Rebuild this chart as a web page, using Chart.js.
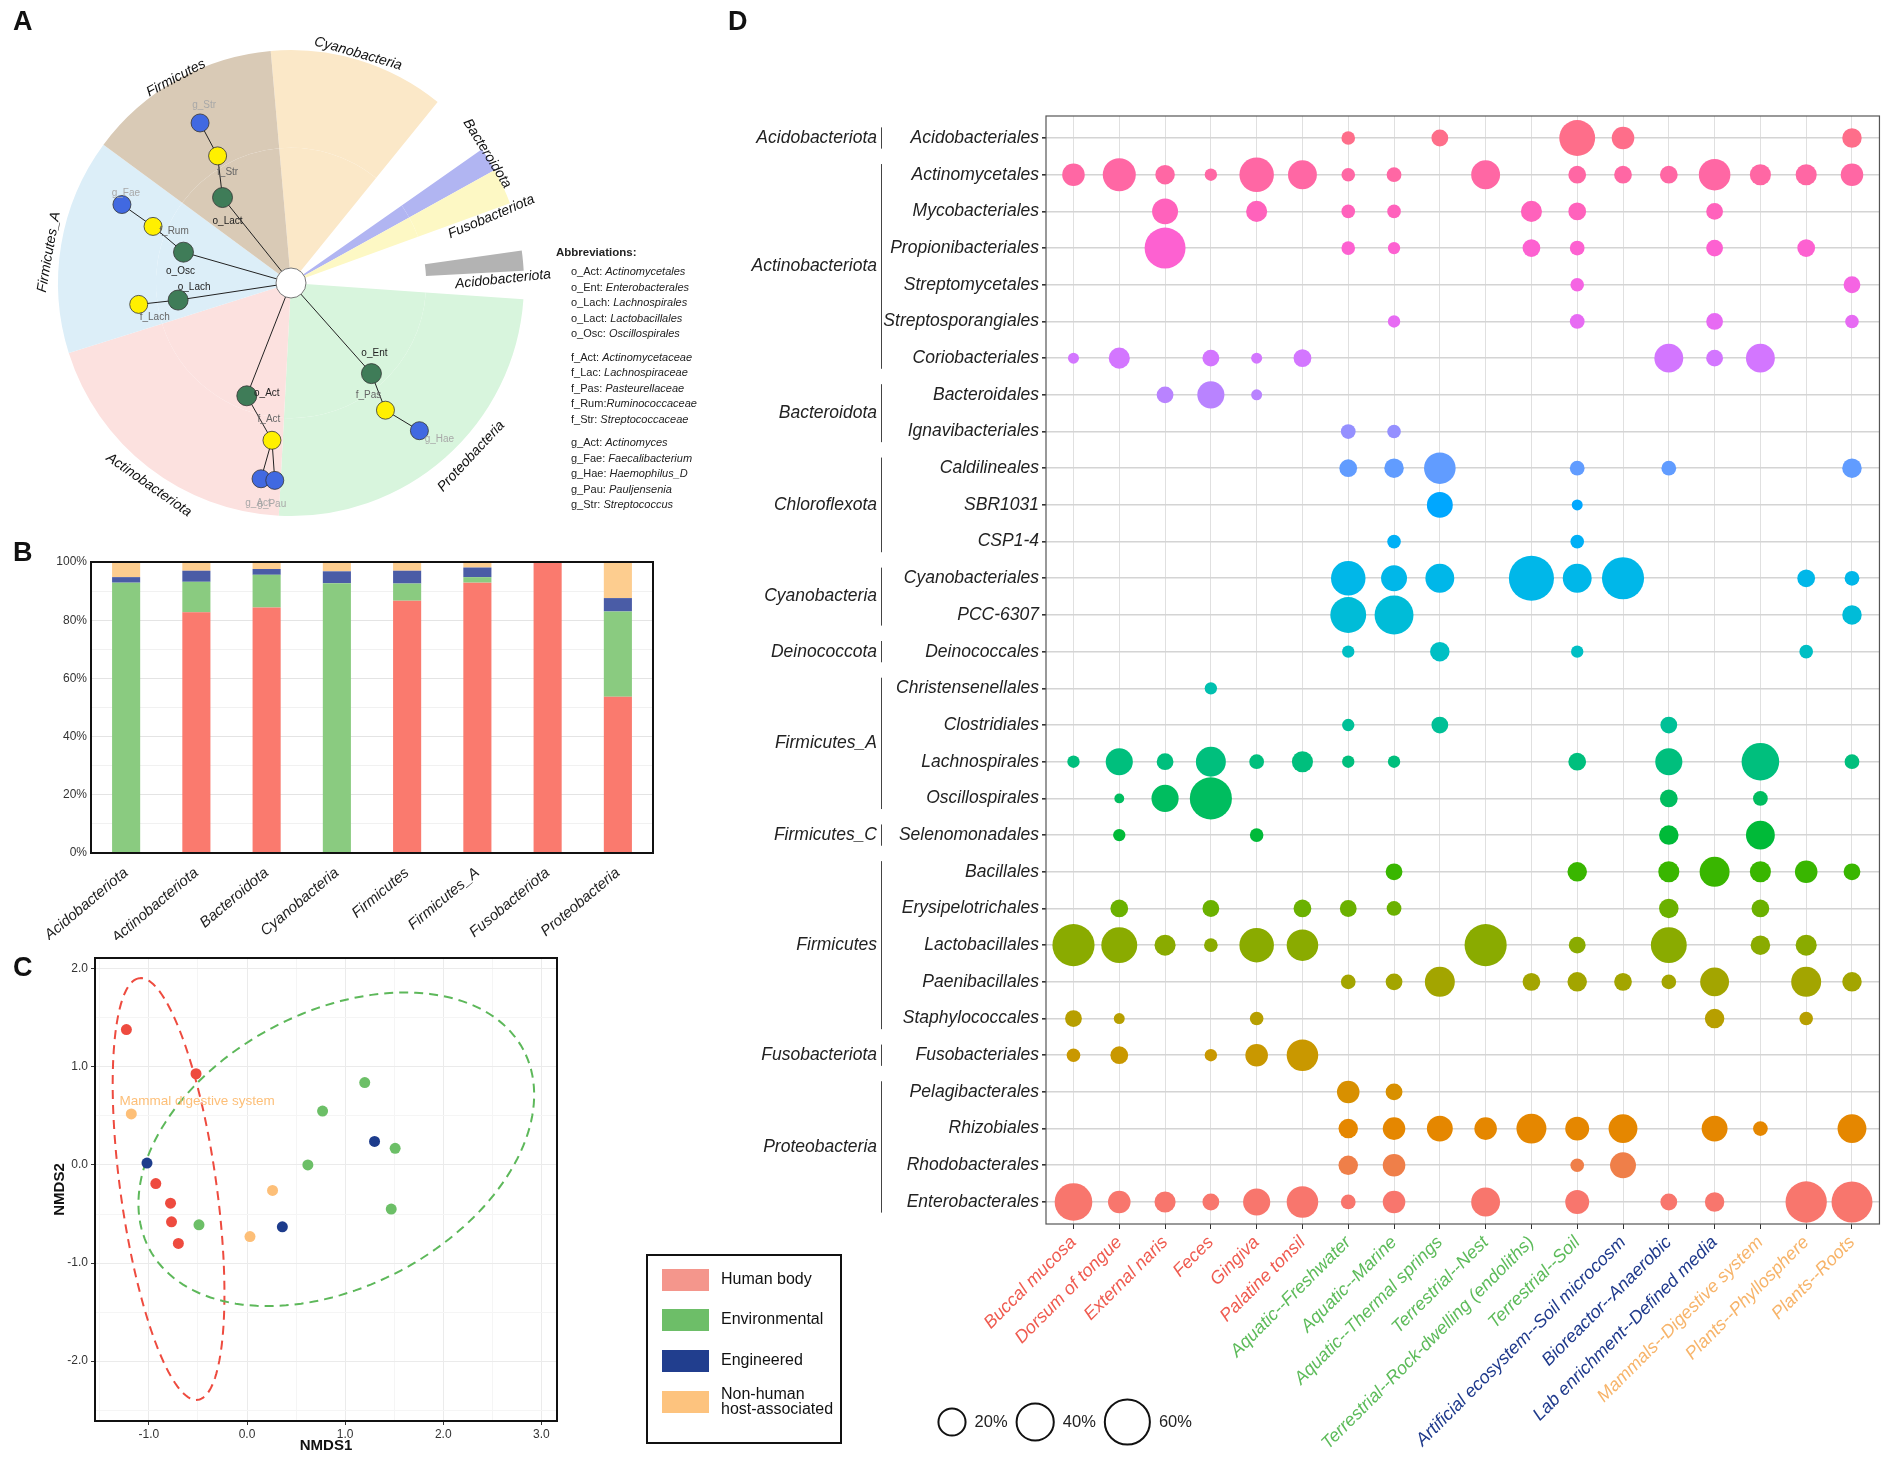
<!DOCTYPE html>
<html>
<head>
<meta charset="utf-8">
<script src="https://cdn.jsdelivr.net/npm/chart.js@4.4.1/dist/chart.umd.min.js"></script>
<style>
  html, body { margin: 0; padding: 0; background: #fff; }
  #page { position: relative; width: 1902px; height: 1460px; overflow: hidden;
          font-family: 'Liberation Sans', Arial, sans-serif; color: #222; }
  canvas { position: absolute; }
  .tag { position: absolute; font-weight: bold; font-size: 27px; line-height: 28px; color: #111; }
  #abbr { position: absolute; left: 556px; top: 245px; font-size: 11px; line-height: 15.4px; color: #222; }
  #abbr b { font-size: 11.5px; }
  #abbr .grp { padding-left: 15px; }
</style>
</head>
<body>
<div id="page">
  <canvas id="chartA" width="720" height="540" style="left:0;top:0"></canvas>
  <canvas id="chartB" width="720" height="400" style="left:0;top:540px"></canvas>
  <canvas id="chartC" width="880" height="520" style="left:0;top:940px"></canvas>
  <canvas id="chartD" width="1182" height="1460" style="left:720px;top:0"></canvas>
  <div class="tag" style="left:13px;top:7px">A</div>
  <div class="tag" style="left:13px;top:538px">B</div>
  <div class="tag" style="left:13px;top:953px">C</div>
  <div class="tag" style="left:728px;top:7px">D</div>
  <div id="abbr"></div>
</div>
<script>
// ---------- panel A: tree sectors and key nodes ----------
const sectorNames = ["Cyanobacteria", "", "Bacteroidota", "Fusobacteriota", "", "Acidobacteriota", "",
  "Proteobacteria", "Actinobacteriota", "Firmicutes_A", "Firmicutes"];
const sectorSpan = [44, 16, 6, 9, 12, 5, 7, 89, 69.5, 53.9, 48.6];
const sectorStart = -5;

const nodeNames = ["o_Lact", "f_Str", "g_Str", "o_Osc", "f_Rum", "g_Fae", "o_Lach", "f_Lach",
  "o_Act", "f_Act", "g_Act", "g_Pau", "o_Ent", "f_Pas", "g_Hae"];
const nodeAngle = [321.3, 330, 330.4, 286, 292.3, 294.9, 261.4, 262, 201.4, 186.9, 188.7, 184.7, 138.4, 143.4, 139];
const nodeDist = [0.47, 0.63, 0.79, 0.48, 0.64, 0.80, 0.49, 0.66, 0.52, 0.68, 0.85, 0.85, 0.52, 0.68, 0.84];
const nodeParent = [-1, 0, 1, -1, 3, 4, -1, 6, -1, 8, 9, 9, -1, 12, 13];

const abbrOrder = [["o_Act", "Actinomycetales"], ["o_Ent", "Enterobacterales"], ["o_Lach", "Lachnospirales"],
  ["o_Lact", "Lactobacillales"], ["o_Osc", "Oscillospirales"]];
const abbrFamily = [["f_Act", "Actinomycetaceae"], ["f_Lac", "Lachnospiraceae"], ["f_Pas", "Pasteurellaceae"],
  ["f_Rum", "Ruminococcaceae"], ["f_Str", "Streptococcaceae"]];
const abbrGenus = [["g_Act", "Actinomyces"], ["g_Fae", "Faecalibacterium"], ["g_Hae", "Haemophilus_D"],
  ["g_Pau", "Pauljensenia"], ["g_Str", "Streptococcus"]];

// ---------- panel B: share of each habitat group per phylum ----------
const phylaB = ["Acidobacteriota", "Actinobacteriota", "Bacteroidota", "Cyanobacteria",
  "Firmicutes", "Firmicutes_A", "Fusobacteriota", "Proteobacteria"];
const humanShare = [0, 82.7, 84.4, 0, 86.7, 92.9, 100, 53.7];
const envShare = [92.9, 10.5, 11.2, 92.7, 5.9, 1.9, 0, 29.3];
const engShare = [1.9, 3.8, 2.0, 4.1, 4.4, 3.3, 0, 4.6];
const hostShare = [5.2, 3.0, 2.4, 3.2, 3.0, 1.9, 0, 12.4];

// ---------- panel C: NMDS ordination ----------
const groupNames = ["Human body", "Environmental", "Engineered", "Non-human\nhost-associated"];
const humanX = [-1.23, -0.52, -0.93, -0.78, -0.77, -0.70];
const humanY = [1.38, 0.93, -0.19, -0.39, -0.58, -0.80];
const envX = [1.20, 0.77, 1.51, 0.62, 1.47, -0.49];
const envY = [0.84, 0.55, 0.17, 0.00, -0.45, -0.61];
const engX = [-1.02, 1.30, 0.36];
const engY = [0.02, 0.24, -0.63];
const hostX = [-1.18, 0.26, 0.03];
const hostY = [0.52, -0.26, -0.73];
const ellipseCx = [-0.80, 0.91];
const ellipseCy = [-0.245, 0.16];
const ellipseA = [2.17, 2.16];
const ellipseB = [0.49, 1.40];
const ellipseRot = [97.9, 28];

// ---------- panel D: order abundance per habitat ----------
const habitats = ["Buccal mucosa", "Dorsum of tongue", "External naris", "Feces", "Gingiva", "Palatine tonsil",
  "Aquatic--Freshwater", "Aquatic--Marine", "Aquatic--Thermal springs", "Terrestrial--Nest",
  "Terrestrial--Rock-dwelling (endoliths)", "Terrestrial--Soil", "Artificial ecosystem--Soil microcosm",
  "Bioreactor--Anaerobic", "Lab enrichment--Defined media", "Mammals--Digestive system",
  "Plants--Phyllosphere", "Plants--Roots"];
const habitatGroup = [0, 0, 0, 0, 0, 0, 1, 1, 1, 1, 1, 1, 2, 2, 2, 3, 3, 3];
const orders = ["Acidobacteriales", "Actinomycetales", "Mycobacteriales", "Propionibacteriales",
  "Streptomycetales", "Streptosporangiales", "Coriobacteriales", "Bacteroidales", "Ignavibacteriales",
  "Caldilineales", "SBR1031", "CSP1-4", "Cyanobacteriales", "PCC-6307", "Deinococcales",
  "Christensenellales", "Clostridiales", "Lachnospirales", "Oscillospirales", "Selenomonadales",
  "Bacillales", "Erysipelotrichales", "Lactobacillales", "Paenibacillales", "Staphylococcales",
  "Fusobacteriales", "Pelagibacterales", "Rhizobiales", "Rhodobacterales", "Enterobacterales"];
const orderPhylum = ["Acidobacteriota", "Actinobacteriota", "Actinobacteriota", "Actinobacteriota",
  "Actinobacteriota", "Actinobacteriota", "Actinobacteriota", "Bacteroidota", "Bacteroidota",
  "Chloroflexota", "Chloroflexota", "Chloroflexota", "Cyanobacteria", "Cyanobacteria", "Deinococcota",
  "Firmicutes_A", "Firmicutes_A", "Firmicutes_A", "Firmicutes_A", "Firmicutes_C",
  "Firmicutes", "Firmicutes", "Firmicutes", "Firmicutes", "Firmicutes",
  "Fusobacteriota", "Proteobacteria", "Proteobacteria", "Proteobacteria", "Proteobacteria"];
// percent, one row per order, one column per habitat (0 = absent)
const abundance = [
  [0, 0, 0, 0, 0, 0, 3, 0, 6, 0, 0, 37, 13, 0, 0, 0, 0, 9],
  [13, 31, 9, 2, 34, 23, 3, 4, 0, 23, 0, 7, 7, 7, 28, 11, 11, 13],
  [0, 0, 18, 0, 11, 0, 3, 3, 0, 0, 11, 7, 0, 0, 6, 0, 0, 0],
  [0, 0, 49, 0, 0, 0, 3, 2, 0, 0, 7, 4, 0, 0, 6, 0, 7, 0],
  [0, 0, 0, 0, 0, 0, 0, 0, 0, 0, 0, 3, 0, 0, 0, 0, 0, 6],
  [0, 0, 0, 0, 0, 0, 0, 2, 0, 0, 0, 4, 0, 0, 6, 0, 0, 3],
  [1, 11, 0, 6, 1, 7, 0, 0, 0, 0, 0, 0, 0, 23, 6, 23, 0, 0],
  [0, 0, 6, 20, 1, 0, 0, 0, 0, 0, 0, 0, 0, 0, 0, 0, 0, 0],
  [0, 0, 0, 0, 0, 0, 4, 3, 0, 0, 0, 0, 0, 0, 0, 0, 0, 0],
  [0, 0, 0, 0, 0, 0, 7, 9, 28, 0, 0, 4, 0, 4, 0, 0, 0, 9],
  [0, 0, 0, 0, 0, 0, 0, 0, 18, 0, 0, 1, 0, 0, 0, 0, 0, 0],
  [0, 0, 0, 0, 0, 0, 0, 3, 0, 0, 0, 3, 0, 0, 0, 0, 0, 0],
  [0, 0, 0, 0, 0, 0, 34, 18, 23, 0, 60, 23, 52, 0, 0, 0, 7, 4],
  [0, 0, 0, 0, 0, 0, 37, 44, 0, 0, 0, 0, 0, 0, 0, 0, 0, 9],
  [0, 0, 0, 0, 0, 0, 2, 0, 9, 0, 0, 2, 0, 0, 0, 0, 3, 0],
  [0, 0, 0, 2, 0, 0, 0, 0, 0, 0, 0, 0, 0, 0, 0, 0, 0, 0],
  [0, 0, 0, 0, 0, 0, 2, 0, 6, 0, 0, 0, 0, 6, 0, 0, 0, 0],
  [2, 20, 6, 25, 4, 11, 2, 2, 0, 0, 0, 7, 0, 20, 0, 41, 0, 4],
  [0, 0.3, 20, 52, 0, 0, 0, 0, 0, 0, 0, 0, 0, 7, 0, 4, 0, 0],
  [0, 2, 0, 0, 3, 0, 0, 0, 0, 0, 0, 0, 0, 9, 0, 23, 0, 0],
  [0, 0, 0, 0, 0, 0, 0, 6, 0, 0, 0, 9, 0, 11, 25, 11, 13, 6],
  [0, 7, 0, 6, 0, 7, 6, 4, 0, 0, 0, 0, 0, 9, 0, 7, 0, 0],
  [52, 37, 11, 3, 34, 28, 0, 0, 0, 52, 0, 6, 0, 37, 0, 9, 11, 0],
  [0, 0, 0, 0, 0, 0, 4, 6, 25, 0, 7, 9, 7, 4, 23, 0, 25, 9],
  [6, 1, 0, 0, 3, 0, 0, 0, 0, 0, 0, 0, 0, 0, 9, 0, 3, 0],
  [3, 7, 0, 2, 13, 28, 0, 0, 0, 0, 0, 0, 0, 0, 0, 0, 0, 0],
  [0, 0, 0, 0, 0, 0, 13, 6, 0, 0, 0, 0, 0, 0, 0, 0, 0, 0],
  [0, 0, 0, 0, 0, 0, 9, 13, 18, 13, 25, 15, 23, 0, 18, 4, 0, 23],
  [0, 0, 0, 0, 0, 0, 9, 13, 0, 0, 0, 3, 18, 0, 0, 0, 0, 0],
  [41, 13, 11, 6, 20, 28, 4, 13, 0, 23, 0, 15, 0, 6, 9, 0, 50, 49]
];
const sizeBreaks = [20, 40, 60];

// ---------- styling ----------
const FONT = "'Liberation Sans', Arial, sans-serif";
Chart.defaults.font.family = FONT;
Chart.defaults.color = "#222";

const sectorFill = { "Cyanobacteria": "#FBE8C8", "Bacteroidota": "#B1B5F2", "Fusobacteriota": "#FDF8C4",
  "Acidobacteriota": "#B3B3B3", "Proteobacteria": "#D8F5DD", "Actinobacteriota": "#FCE1DF",
  "Firmicutes_A": "#DCEEF8", "Firmicutes": "#D9CAB6" };
const levelColor = { o: "#3F7C58", f: "#FFF000", g: "#4169E1" };
const nodeLabelOffset = [[5, 24], [10, 16], [4, -18], [-3, 19], [21, 5], [4, -11], [16, -13], [16, 13],
  [20, -3], [-3, -21], [-3, 24], [-3, 24], [3, -20], [-17, -15], [20, 9]];
const phylumTags = [
  { t: "Cyanobacteria", a: 16.3, d: 239, r: 16 }, { t: "Firmicutes", a: 330.7, d: 235, r: -28 },
  { t: "Bacteroidota", a: 56.6, d: 235, r: 58 }, { t: "Fusobacteriota", a: 71.7, d: 211, r: -23 },
  { t: "Acidobacteriota", a: 89, d: 212, r: -6 }, { t: "Firmicutes_A", a: 277.3, d: 244, r: -80 },
  { t: "Actinobacteriota", a: 215.1, d: 247, r: 35 }, { t: "Proteobacteria", a: 133.9, d: 250, r: -47 }];
const barColors = ["#FA7A6E", "#8ACB80", "#4A5CA6", "#FDCD8F"];
const pointColors = ["#EE4B3F", "#6CBF67", "#1D3C8C", "#FDBF78"];
const legendColors = ["#F4968C", "#6DBE68", "#213E8E", "#FDC37E"];
const ellipseColors = ["#EE4B3F", "#5DB85A"];
const habitatText = ["#EF5B50", "#5DBB5A", "#1F3A8C", "#F7B46A"];

function hcl(h, c, l) {
  const hr = h * Math.PI / 180;
  const U = c * Math.cos(hr), V = c * Math.sin(hr);
  const Xn = 95.047, Yn = 100, Zn = 108.883;
  const Y = Yn * Math.pow((l + 16) / 116, 3);
  const t = Xn + 15 * Yn + 3 * Zn;
  const u = U / (13 * l) + 4 * Xn / t, v = V / (13 * l) + 9 * Yn / t;
  const X = 9 * Y * u / (4 * v);
  const Z = Y * (12 - 3 * u - 20 * v) / (4 * v);
  const x = X / 100, y = Y / 100, z = Z / 100;
  const lin = [3.240479 * x - 1.537150 * y - 0.498535 * z,
    -0.969256 * x + 1.875992 * y + 0.041556 * z,
    0.055648 * x - 0.204043 * y + 1.057311 * z];
  const gam = (q) => q <= 0.0031308 ? 12.92 * q : 1.055 * Math.pow(q, 1 / 2.4) - 0.055;
  return "rgb(" + lin.map((q) => Math.round(255 * Math.min(1, Math.max(0, gam(q))))).join(",") + ")";
}
const rowColor = (i) => hcl(15 + 12 * (orders.length - 1 - i), 100, 65);
const sizeR = (v) => Math.sqrt(22 + 8.1 * v);

function framePlugin(color, width, hook) {
  return { id: "frame", [hook](chart) {
    const { ctx, chartArea: a } = chart;
    ctx.save();
    ctx.strokeStyle = color;
    ctx.lineWidth = width;
    ctx.strokeRect(a.left, a.top, a.right - a.left, a.bottom - a.top);
    ctx.restore();
  } };
}

// ---------- abbreviation list ----------
const abbrBox = document.getElementById("abbr");
abbrBox.innerHTML = "<b>Abbreviations:</b>" + [abbrOrder, abbrFamily, abbrGenus].map((list, k) =>
  `<div class="grp" style="margin-top:${k ? 8.5 : 4}px">` +
  list.map(([s, n]) => `<div>${s}:${s === "f_Rum" ? "" : " "}<i>${n}</i></div>`).join("") + "</div>").join("");

// ---------- A ----------
const treePlugin = {
  id: "tree",
  afterDatasetsDraw(chart) {
    const ctx = chart.ctx;
    const arc = chart.getDatasetMeta(0).data[0];
    const cx = arc.x, cy = arc.y, R = arc.outerRadius;
    const pos = (i) => {
      const t = nodeAngle[i] * Math.PI / 180, d = nodeDist[i] * R;
      return [cx + d * Math.sin(t), cy - d * Math.cos(t)];
    };
    ctx.save();
    ctx.strokeStyle = "#222";
    ctx.lineWidth = 1;
    nodeNames.forEach((n, i) => {
      const from = nodeParent[i] < 0 ? [cx, cy] : pos(nodeParent[i]);
      const to = pos(i);
      ctx.beginPath(); ctx.moveTo(from[0], from[1]); ctx.lineTo(to[0], to[1]); ctx.stroke();
    });
    ctx.fillStyle = "#fff"; ctx.strokeStyle = "#777";
    ctx.beginPath(); ctx.arc(cx, cy, 15, 0, 2 * Math.PI); ctx.fill(); ctx.stroke();
    ctx.font = `10px ${FONT}`;
    ctx.textAlign = "center"; ctx.textBaseline = "middle";
    nodeNames.forEach((n, i) => {
      const [x, y] = pos(i);
      const lvl = n[0];
      ctx.fillStyle = levelColor[lvl]; ctx.strokeStyle = "#333"; ctx.lineWidth = 0.8;
      ctx.beginPath(); ctx.arc(x, y, lvl === "o" ? 10 : 9, 0, 2 * Math.PI); ctx.fill(); ctx.stroke();
      ctx.fillStyle = lvl === "o" ? "#222" : lvl === "f" ? "#666" : "#A8A8A8";
      ctx.fillText(n, x + nodeLabelOffset[i][0], y + nodeLabelOffset[i][1]);
    });
    ctx.fillStyle = "#111";
    ctx.font = `italic 14px ${FONT}`;
    phylumTags.forEach((p) => {
      const t = p.a * Math.PI / 180;
      ctx.save();
      ctx.translate(cx + p.d * Math.sin(t), cy - p.d * Math.cos(t));
      ctx.rotate(p.r * Math.PI / 180);
      ctx.fillText(p.t, 0, 0);
      ctx.restore();
    });
    ctx.restore();
  }
};

new Chart(document.getElementById("chartA"), {
  type: "pie",
  data: {
    labels: sectorNames,
    datasets: [
      { data: sectorSpan, weight: 0.42, borderWidth: 0, hoverOffset: 0,
        backgroundColor: sectorNames.map((n) => sectorFill[n] || "rgba(0,0,0,0)") },
      { data: sectorSpan, weight: 0.58, borderWidth: 0, hoverOffset: 0,
        backgroundColor: sectorNames.map((n) => n && n !== "Acidobacteriota" ? sectorFill[n] : "rgba(0,0,0,0)") }
    ]
  },
  options: {
    responsive: false, animation: false, devicePixelRatio: 1, events: [],
    rotation: sectorStart,
    layout: { padding: { left: 58, top: 50, right: 196, bottom: 24 } },
    plugins: { legend: { display: false }, tooltip: { enabled: false } }
  },
  plugins: [treePlugin]
});

// ---------- B ----------
new Chart(document.getElementById("chartB"), {
  type: "bar",
  data: {
    labels: phylaB,
    datasets: [humanShare, envShare, engShare, hostShare].map((d, k) => ({
      label: groupNames[k], data: d, backgroundColor: barColors[k], borderWidth: 0,
      barPercentage: 0.4, categoryPercentage: 1
    }))
  },
  options: {
    responsive: false, animation: false, devicePixelRatio: 1, events: [],
    layout: { padding: { left: 0, top: 22, right: 67, bottom: 0 } },
    plugins: { legend: { display: false }, tooltip: { enabled: false } },
    scales: {
      x: {
        stacked: true,
        grid: { display: false },
        border: { display: false },
        ticks: { minRotation: 40, maxRotation: 40, autoSkip: false, padding: 3, color: "#222",
          font: { size: 15, style: "italic" } },
        afterFit: (s) => { s.height = 87; s.paddingLeft = 0; s.paddingRight = 0; }
      },
      y: {
        stacked: true, min: 0, max: 100,
        border: { display: false },
        grid: { color: (c) => c.tick.value % 20 === 0 ? "#E4E4E4" : "#F1F1F1", drawTicks: false },
        ticks: { stepSize: 10, autoSkip: false, padding: 4, color: "#333", font: { size: 12 },
          callback: (v) => v % 20 === 0 ? v + "%" : "" },
        afterFit: (s) => { s.width = 91; s.paddingTop = 0; s.paddingBottom = 0; }
      }
    }
  },
  plugins: [framePlugin("#111", 2, "afterDatasetsDraw")]
});

// ---------- C ----------
const ellipsePlugin = {
  id: "ellipses",
  beforeDatasetsDraw(chart) {
    const { ctx, scales: { x, y } } = chart;
    ctx.save();
    ctx.setLineDash([9, 6]);
    ctx.lineWidth = 2;
    ellipseCx.forEach((cx0, k) => {
      const th = ellipseRot[k] * Math.PI / 180;
      ctx.strokeStyle = ellipseColors[k];
      ctx.beginPath();
      for (let s = 0; s <= 160; s++) {
        const a = s / 160 * 2 * Math.PI;
        const dx = ellipseA[k] * Math.cos(a), dy = ellipseB[k] * Math.sin(a);
        const px = x.getPixelForValue(cx0 + dx * Math.cos(th) - dy * Math.sin(th));
        const py = y.getPixelForValue(ellipseCy[k] + dx * Math.sin(th) + dy * Math.cos(th));
        if (s === 0) ctx.moveTo(px, py); else ctx.lineTo(px, py);
      }
      ctx.stroke();
    });
    ctx.restore();
  },
  afterDatasetsDraw(chart) {
    const { ctx, scales: { x, y } } = chart;
    ctx.save();
    ctx.fillStyle = "#FDBF78";
    ctx.font = `13.5px ${FONT}`;
    ctx.textBaseline = "middle";
    ctx.fillText("Mammal digestive system", x.getPixelForValue(-1.30), y.getPixelForValue(0.65));
    ctx.restore();
  },
  afterDraw(chart) {
    const ctx = chart.ctx;
    ctx.save();
    ctx.strokeStyle = "#111"; ctx.lineWidth = 2;
    ctx.strokeRect(647, 315, 194, 188);
    ctx.font = `16px ${FONT}`;
    ctx.textBaseline = "middle";
    const rowsY = [340, 380, 421, 462];
    groupNames.forEach((g, k) => {
      ctx.fillStyle = legendColors[k];
      ctx.fillRect(662, rowsY[k] - 11, 47, 22);
      ctx.fillStyle = "#111";
      const lines = g.split("\n");
      lines.forEach((ln, j) => ctx.fillText(ln, 721, rowsY[k] + (j - (lines.length - 1) / 2) * 15));
    });
    ctx.restore();
  }
};

const halfTicks = (lo, hi) => { const t = []; for (let v = lo; v <= hi + 1e-9; v += 0.5) t.push({ value: v }); return t; };
const major = (v) => Math.abs(v - Math.round(v)) < 1e-6;

new Chart(document.getElementById("chartC"), {
  type: "scatter",
  data: {
    datasets: [[humanX, humanY], [envX, envY], [engX, engY], [hostX, hostY]].map(([xs, ys], k) => ({
      label: groupNames[k], data: xs.map((v, i) => ({ x: v, y: ys[i] })),
      backgroundColor: pointColors[k], borderWidth: 0, pointRadius: 5.5
    }))
  },
  options: {
    responsive: false, animation: false, devicePixelRatio: 1, events: [],
    layout: { padding: { left: 48, top: 18, right: 323, bottom: 0 } },
    plugins: { legend: { display: false }, tooltip: { enabled: false } },
    scales: {
      x: {
        type: "linear", min: -1.55, max: 3.16,
        afterBuildTicks: (s) => { s.ticks = halfTicks(-1.5, 3); },
        afterFit: (s) => { s.height = 39; s.paddingLeft = 0; s.paddingRight = 0; },
        border: { display: false },
        grid: { color: (c) => major(c.tick.value) ? "#EBEBEB" : "#F5F5F5",
          tickColor: (c) => major(c.tick.value) ? "#333" : "rgba(0,0,0,0)", tickLength: 4 },
        ticks: { autoSkip: false, maxRotation: 0, padding: 2, color: "#333", font: { size: 12 },
          callback: (v) => major(v) ? v.toFixed(1) : "" },
        title: { display: true, text: "NMDS1", color: "#111", font: { size: 15, weight: "bold" },
          padding: { top: 0, bottom: 5 } }
      },
      y: {
        type: "linear", min: -2.61, max: 2.11,
        afterBuildTicks: (s) => { s.ticks = halfTicks(-2.5, 2); },
        afterFit: (s) => { s.width = 47; s.paddingTop = 0; s.paddingBottom = 0; },
        border: { display: false },
        grid: { color: (c) => major(c.tick.value) ? "#EBEBEB" : "#F5F5F5",
          tickColor: (c) => major(c.tick.value) ? "#333" : "rgba(0,0,0,0)", tickLength: 4 },
        ticks: { autoSkip: false, padding: 3, color: "#333", font: { size: 12 },
          callback: (v) => major(v) ? v.toFixed(1) : "" },
        title: { display: true, text: "NMDS2", color: "#111", font: { size: 15, weight: "bold" },
          padding: { top: 3, bottom: 0 } }
      }
    }
  },
  plugins: [ellipsePlugin, framePlugin("#111", 2, "afterDatasetsDraw")]
});

// ---------- D ----------
const phylumPlugin = {
  id: "phyla",
  afterDraw(chart) {
    const { ctx, scales: { y } } = chart;
    ctx.save();
    ctx.font = `italic 17.5px ${FONT}`;
    ctx.fillStyle = "#222"; ctx.strokeStyle = "#444"; ctx.lineWidth = 1;
    ctx.textAlign = "right"; ctx.textBaseline = "middle";
    let i = 0;
    while (i < orderPhylum.length) {
      let j = i;
      while (j + 1 < orderPhylum.length && orderPhylum[j + 1] === orderPhylum[i]) j++;
      ctx.fillText(orderPhylum[i], 157, (y.getPixelForValue(i) + y.getPixelForValue(j)) / 2);
      ctx.beginPath();
      ctx.moveTo(161.5, y.getPixelForValue(i - 0.29));
      ctx.lineTo(161.5, y.getPixelForValue(j + 0.29));
      ctx.stroke();
      i = j + 1;
    }
    // bubble size key
    ctx.font = `16.5px ${FONT}`;
    ctx.textAlign = "left";
    ctx.strokeStyle = "#111"; ctx.lineWidth = 2;
    let x = 232 - sizeR(sizeBreaks[0]);
    sizeBreaks.forEach((v) => {
      const r = sizeR(v);
      ctx.beginPath(); ctx.arc(x + r, 1422, r, 0, 2 * Math.PI); ctx.stroke();
      const label = v + "%";
      ctx.fillText(label, x + 2 * r + 9, 1422);
      x += 2 * r + 9 + ctx.measureText(label).width + 9;
    });
    ctx.restore();
  }
};

new Chart(document.getElementById("chartD"), {
  type: "bubble",
  data: {
    datasets: orders.map((name, i) => ({
      label: name,
      data: abundance[i].map((v, j) => v > 0 ? { x: j, y: i, r: sizeR(v) } : null).filter(Boolean),
      backgroundColor: rowColor(i), borderWidth: 0, clip: false
    }))
  },
  options: {
    responsive: false, animation: false, devicePixelRatio: 1, events: [],
    layout: { padding: { left: 0, top: 116, right: 2, bottom: 0 } },
    plugins: { legend: { display: false }, tooltip: { enabled: false } },
    scales: {
      x: {
        type: "linear", min: -0.6, max: habitats.length - 0.4,
        afterBuildTicks: (s) => { s.ticks = habitats.map((_, j) => ({ value: j })); },
        afterFit: (s) => { s.height = 236; s.paddingLeft = 0; s.paddingRight = 0; },
        border: { display: false },
        grid: { color: "#E0E0E0", lineWidth: 1, tickColor: "#333", tickLength: 5 },
        ticks: { autoSkip: false, minRotation: 45, maxRotation: 45, padding: 3,
          color: (c) => habitatText[habitatGroup[c.index]],
          font: { size: 18, style: "italic" }, callback: (v) => habitats[v] }
      },
      y: {
        type: "linear", reverse: true, min: -0.6, max: orders.length - 0.4,
        afterBuildTicks: (s) => { s.ticks = orders.map((_, i) => ({ value: i })); },
        afterFit: (s) => { s.width = 326; s.paddingTop = 0; s.paddingBottom = 0; },
        border: { display: false },
        grid: { color: "#D4D4D4", lineWidth: 1.6, tickColor: "#333", tickLength: 4 },
        ticks: { autoSkip: false, padding: 3, color: "#222", font: { size: 17.5, style: "italic" },
          callback: (v) => orders[v] }
      }
    }
  },
  plugins: [framePlugin("#555", 1.2, "beforeDatasetsDraw"), phylumPlugin]
});
</script>
</body>
</html>
